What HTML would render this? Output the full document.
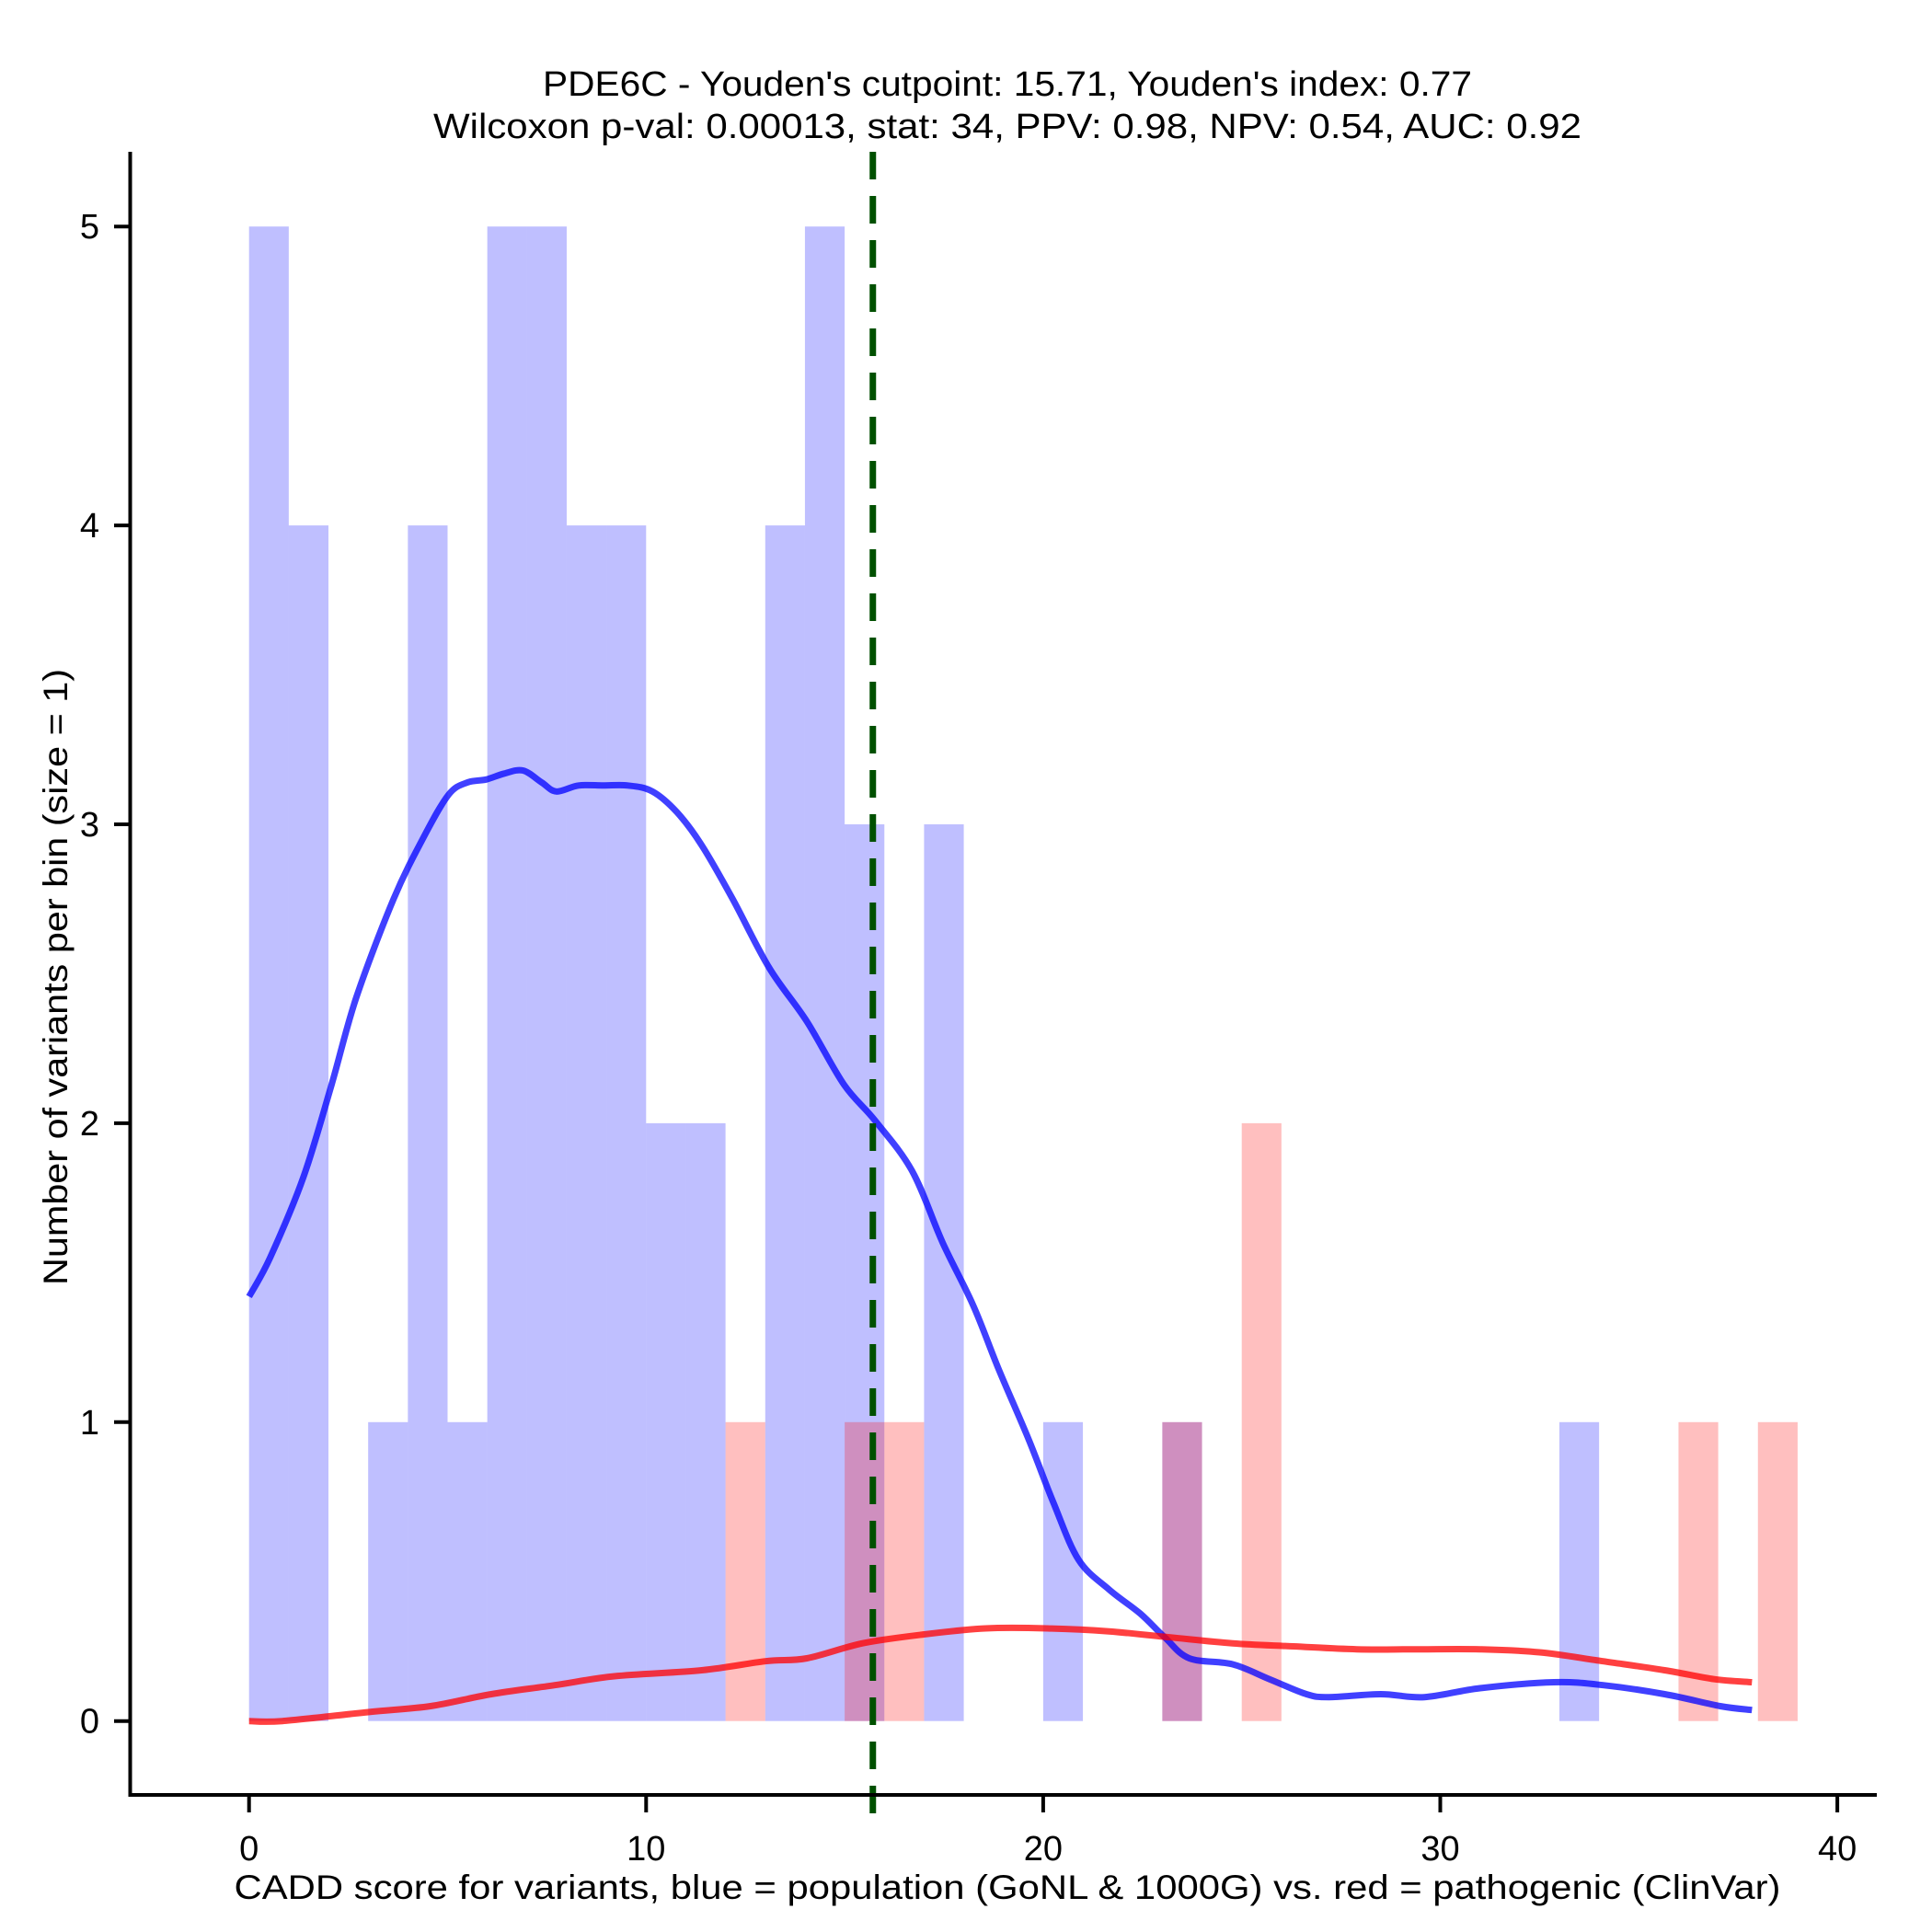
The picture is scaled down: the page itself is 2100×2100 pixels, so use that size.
<!DOCTYPE html>
<html><head><meta charset="utf-8"><style>
html,body{margin:0;padding:0;background:#fff;}
svg{display:block;font-family:"Liberation Sans",Arial,sans-serif;}
</style></head><body>
<svg id="chart" width="2100" height="2100" viewBox="0 0 2100 2100" xmlns="http://www.w3.org/2000/svg">
<rect x="0" y="0" width="2100" height="2100" fill="#fff"/>
<g font-size="38" text-anchor="middle" fill="#000">
<text x="1095" y="104" textLength="1010" lengthAdjust="spacingAndGlyphs">PDE6C - Youden's cutpoint: 15.71, Youden's index: 0.77</text>
<text x="1095" y="150" textLength="1248" lengthAdjust="spacingAndGlyphs">Wilcoxon p-val: 0.00013, stat: 34, PPV: 0.98, NPV: 0.54, AUC: 0.92</text>
</g>
<g id="bars-blue"></g>
<g id="bars-red"></g>
<g id="lines"></g>
<g id="axes"></g>
<text x="1095" y="2064" font-size="37" text-anchor="middle" textLength="1681" lengthAdjust="spacingAndGlyphs">CADD score for variants, blue = population (GoNL &amp; 1000G) vs. red = pathogenic (ClinVar)</text>
<text transform="translate(73,1062) rotate(-90)" font-size="37" text-anchor="middle" textLength="670" lengthAdjust="spacingAndGlyphs">Number of variants per bin (size = 1)</text>
</svg>
<script>
const blueCounts = [5,4,0,1,4,1,5,5,4,4,2,2,0,4,5,3,0,3,0,0,1,0,0,1,0,0,0,0,0,0,0,0,0,1];
const redCounts = [0,0,0,0,0,0,0,0,0,0,0,0,1,0,0,1,1,0,0,0,0,0,0,1,0,2,0,0,0,0,0,0,0,0,0,0,1,0,1];
const blueX = [0,0.53,1.37,2.08,2.7,3.64,4.41,5.03,5.5,5.97,6.43,6.9,7.37,7.74,8.3,8.92,9.54,10.16,10.78,11.4,12.18,13.1,14.05,14.98,15.76,16.7,17.47,18.24,18.87,19.64,20.26,20.89,21.66,22.44,23.06,23.68,24.77,25.7,26.63,27.2,28.5,29.6,31,32.86,34.1,35.65,37.05,37.85];
const blueY = [1.42,1.55,1.82,2.13,2.42,2.75,2.96,3.10,3.14,3.15,3.17,3.18,3.14,3.11,3.13,3.13,3.13,3.11,3.04,2.93,2.75,2.52,2.34,2.13,2.01,1.84,1.60,1.39,1.18,0.94,0.73,0.54,0.44,0.36,0.28,0.21,0.19,0.14,0.09,0.08,0.09,0.08,0.11,0.13,0.12,0.09,0.05,0.037];
const redX = [0,0.84,3,4.57,6.1,7.7,9.2,11.4,13,14.05,15.45,17,18.55,20.1,21.66,23.2,24.77,26.3,27.9,29.4,31,32.5,34.1,35.65,36.9,37.85];
const redY = [0,0,0.03,0.05,0.09,0.12,0.15,0.17,0.2,0.21,0.26,0.29,0.31,0.31,0.30,0.28,0.26,0.25,0.24,0.24,0.24,0.23,0.20,0.17,0.14,0.13];
const xTicks = [0,10,20,30,40];
const yTicks = [0,1,2,3,4,5];
const cutpoint = 15.71;

const NS = "http://www.w3.org/2000/svg";
const X0 = 270.7, XU = 43.16, Y0 = 1870.7, YU = 324.9;
function xs(v){return X0 + v*XU;}
function ys(v){return Y0 - v*YU;}
function mk(tag, attrs, parent){const e=document.createElementNS(NS,tag);for(const k in attrs)e.setAttribute(k,attrs[k]);parent.appendChild(e);return e;}

const gb=document.getElementById('bars-blue');
blueCounts.forEach((c,i)=>{ if(!c) return;
  const r=mk('rect',{x:xs(i),y:ys(c),width:XU,height:ys(0)-ys(c),fill:'#0000ff','fill-opacity':0.25},gb);
  
  
});
const gr=document.getElementById('bars-red');
redCounts.forEach((c,i)=>{ if(!c) return;
  const r=mk('rect',{x:xs(i),y:ys(c),width:XU,height:ys(0)-ys(c),fill:'#ff0000','fill-opacity':0.25},gr);
  
  
});
const gl=document.getElementById('lines');
function smooth(xa,ya){
  const p=xa.map((x,i)=>[xs(x),ys(ya[i])]);
  let d='M'+p[0][0].toFixed(1)+','+p[0][1].toFixed(1);
  for(let i=0;i<p.length-1;i++){
    const p0=p[Math.max(0,i-1)],p1=p[i],p2=p[i+1],p3=p[Math.min(p.length-1,i+2)];
    const c1=[p1[0]+(p2[0]-p0[0])/6,p1[1]+(p2[1]-p0[1])/6];
    const c2=[p2[0]-(p3[0]-p1[0])/6,p2[1]-(p3[1]-p1[1])/6];
    d+=' C'+c1[0].toFixed(1)+','+c1[1].toFixed(1)+' '+c2[0].toFixed(1)+','+c2[1].toFixed(1)+' '+p2[0].toFixed(1)+','+p2[1].toFixed(1);
  }
  return d;
}
const lb=mk('path',{d:smooth(blueX,blueY),fill:'none',stroke:'#0000ff','stroke-opacity':0.75,'stroke-width':7,'stroke-linejoin':'round'},gl);


const lr=mk('path',{d:smooth(redX,redY),fill:'none',stroke:'#ff0000','stroke-opacity':0.75,'stroke-width':7,'stroke-linejoin':'round'},gl);


const cl=mk('line',{x1:xs(cutpoint),x2:xs(cutpoint),y1:165,y2:1985,stroke:'#005000','stroke-width':7,'stroke-dasharray':'30,18'},gl);



const ga=document.getElementById('axes');
const ya=mk('line',{x1:141.5,x2:141.5,y1:165,y2:1953,stroke:'#000','stroke-width':4},ga);


const xa=mk('line',{x1:139.5,x2:2040,y1:1951,y2:1951,stroke:'#000','stroke-width':4},ga);


xTicks.forEach(t=>{
  const l=mk('line',{x1:xs(t),x2:xs(t),y1:1951,y2:1970,stroke:'#000','stroke-width':4},ga);
  
  
  const tx=mk('text',{x:xs(t),y:2022,'font-size':38,'text-anchor':'middle'},ga);
  tx.textContent=t;
  
  
});
yTicks.forEach(t=>{
  const l=mk('line',{x1:124,x2:141.5,y1:ys(t),y2:ys(t),stroke:'#000','stroke-width':4},ga);
  
  
  const tx=mk('text',{x:108,y:ys(t)+13,'font-size':38,'text-anchor':'end'},ga);
  tx.textContent=t;
  
  
});
</script>
</body></html>
